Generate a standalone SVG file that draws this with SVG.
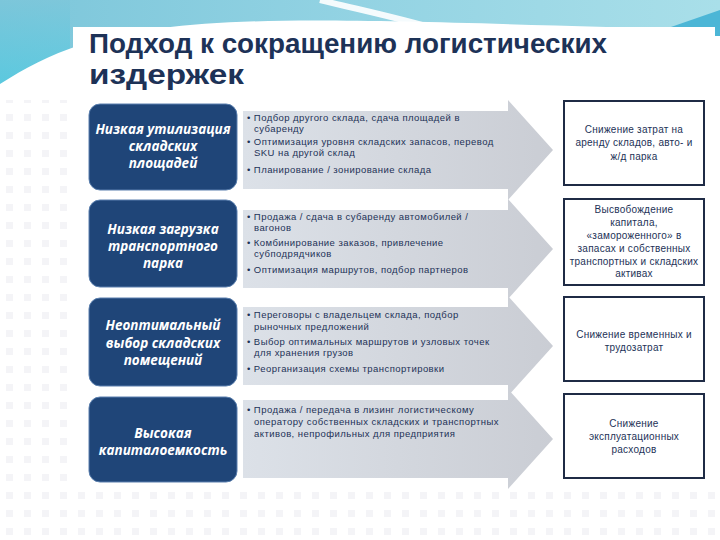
<svg xmlns="http://www.w3.org/2000/svg" width="720" height="540" viewBox="0 0 720 540">
<defs>
<linearGradient id="sky" x1="0" y1="0" x2="1" y2="0">
<stop offset="0" stop-color="#7cc6da"/>
<stop offset="0.5" stop-color="#93d3e3"/>
<stop offset="1" stop-color="#a9dfe9"/>
</linearGradient>
<linearGradient id="skyL" x1="0" y1="0" x2="0" y2="1">
<stop offset="0" stop-color="#7cc6da"/>
<stop offset="1" stop-color="#3fcbe3"/>
</linearGradient>
<linearGradient id="arr" x1="0" y1="0" x2="1" y2="0">
<stop offset="0" stop-color="#dce1e8"/>
<stop offset="1" stop-color="#cacdd4"/>
</linearGradient>
<pattern id="dots" x="0" y="0" width="18" height="18" patternUnits="userSpaceOnUse">
<rect x="6" y="6" width="7" height="7" fill="#f4f4f7"/>
</pattern>
<path id="arrowShape" d="M0,11 H265 V0 L310,50 L265,100 V89 H0 Z"/>
</defs>
<style>
.title{font-family:"Liberation Sans",Arial,sans-serif;font-weight:bold;font-size:27px;fill:#1d3257}
.lbox{fill:#1f4578;stroke:#5a7fae;stroke-width:1}
.ltxt{font-family:"Open Sans","DejaVu Sans",sans-serif;font-weight:bold;font-style:italic;font-size:13.5px;fill:#ffffff;text-anchor:middle}
.atxt{font-family:"Liberation Sans",Arial,sans-serif;font-size:9.5px;letter-spacing:0.45px;fill:#1d3257}
.rbox{fill:#ffffff;stroke:#1f2b45;stroke-width:2}
.rtxt{font-family:"Liberation Sans",Arial,sans-serif;font-size:10px;letter-spacing:0.25px;fill:#1d3257;text-anchor:middle}
.arrow{fill:url(#arr)}
</style>
<rect width="720" height="540" fill="#ffffff"/>
<rect x="0" y="0" width="720" height="95" fill="url(#sky)"/>
<path d="M0,0 H70 V95 H0 Z" fill="url(#skyL)" opacity="0.6"/>
<path d="M0,84 C25,68 50,55 80,45 C200,10 330,20 720,30 V95 H0 Z" fill="#ffffff"/>
<rect x="0" y="100" width="720" height="440" fill="url(#dots)"/>
<path d="M320,0 C360,10 410,20 460,36" fill="none" stroke="#ffffff" stroke-width="6" opacity="0.9"/>
<path d="M645,36 L720,10 V36 Z" fill="#4cb6d6"/>
<rect x="73" y="27" width="642" height="463" fill="#ffffff"/>

<g id="title">
<text class="title" x="89" y="53" textLength="518" lengthAdjust="spacingAndGlyphs">Подход к сокращению логистических</text>
<text class="title" x="89" y="84" textLength="155" lengthAdjust="spacingAndGlyphs">издержек</text>
</g>

<g id="connectors">
<use href="#arrowShape" class="arrow" transform="translate(243,100)"/>
<use href="#arrowShape" class="arrow" transform="translate(243,199)"/>
<use href="#arrowShape" class="arrow" transform="translate(243,296)"/>
<use href="#arrowShape" class="arrow" transform="translate(243,389)"/>
</g>

<g id="problem1">
<rect class="lbox" x="89" y="104" width="148" height="86" rx="11"/>
<text class="ltxt" x="163" y="134">Низкая утилизация</text>
<text class="ltxt" x="163" y="151">складских</text>
<text class="ltxt" x="163" y="168">площадей</text>
</g>
<g id="problem2">
<rect class="lbox" x="89" y="200" width="148" height="87" rx="11"/>
<text class="ltxt" x="163" y="234">Низкая загрузка</text>
<text class="ltxt" x="163" y="251">транспортного</text>
<text class="ltxt" x="163" y="268">парка</text>
</g>
<g id="problem3">
<rect class="lbox" x="89" y="298" width="148" height="88" rx="11"/>
<text class="ltxt" x="163" y="330">Неоптимальный</text>
<text class="ltxt" x="163" y="348">выбор складских</text>
<text class="ltxt" x="163" y="365">помещений</text>
</g>
<g id="problem4">
<rect class="lbox" x="89" y="397" width="148" height="85" rx="11"/>
<text class="ltxt" x="163" y="438">Высокая</text>
<text class="ltxt" x="163" y="455">капиталоемкость</text>
</g>

<g id="actions1">
<text class="atxt" x="247" y="121">• Подбор другого склада, сдача площадей в</text>
<text class="atxt" x="254" y="132">субаренду</text>
<text class="atxt" x="247" y="145">• Оптимизация уровня складских запасов, перевод</text>
<text class="atxt" x="254" y="156">SKU на другой склад</text>
<text class="atxt" x="247" y="173">• Планирование / зонирование склада</text>
</g>
<g id="actions2">
<text class="atxt" x="247" y="220">• Продажа / сдача в субаренду автомобилей  /</text>
<text class="atxt" x="254" y="231" font-size="8.5">вагонов</text>
<text class="atxt" x="247" y="246" font-size="8.5">• Комбинирование заказов, привлечение</text>
<text class="atxt" x="254" y="257">субподрядчиков</text>
<text class="atxt" x="247" y="273">• Оптимизация маршрутов, подбор партнеров</text>
</g>
<g id="actions3">
<text class="atxt" x="247" y="318">• Переговоры с владельцем склада, подбор</text>
<text class="atxt" x="254" y="330">рыночных предложений</text>
<text class="atxt" x="247" y="345">• Выбор оптимальных маршрутов и узловых точек</text>
<text class="atxt" x="254" y="356">для хранения грузов</text>
<text class="atxt" x="247" y="372">• Реорганизация схемы транспортировки</text>
</g>
<g id="actions4">
<text class="atxt" x="247" y="413">• Продажа / передача в лизинг логистическому</text>
<text class="atxt" x="254" y="425">оператору собственных складских и транспортных</text>
<text class="atxt" x="254" y="437">активов, непрофильных для предприятия</text>
</g>

<g id="result1">
<rect class="rbox" x="564" y="101" width="140" height="84"/>
<text class="rtxt" x="634" y="133">Снижение затрат на</text>
<text class="rtxt" x="634" y="146">аренду складов, авто- и</text>
<text class="rtxt" x="634" y="160">ж/д парка</text>
</g>
<g id="result2">
<rect class="rbox" x="564" y="199" width="140" height="86"/>
<text class="rtxt" x="634" y="213">Высвобождение</text>
<text class="rtxt" x="634" y="226">капитала,</text>
<text class="rtxt" x="634" y="239">«замороженного» в</text>
<text class="rtxt" x="634" y="252">запасах и собственных</text>
<text class="rtxt" x="634" y="265">транспортных и складских</text>
<text class="rtxt" x="634" y="277">активах</text>
</g>
<g id="result3">
<rect class="rbox" x="564" y="297" width="140" height="84"/>
<text class="rtxt" x="634" y="338">Снижение временных и</text>
<text class="rtxt" x="634" y="351">трудозатрат</text>
</g>
<g id="result4">
<rect class="rbox" x="564" y="394" width="140" height="84"/>
<text class="rtxt" x="634" y="427">Снижение</text>
<text class="rtxt" x="634" y="440">эксплуатационных</text>
<text class="rtxt" x="634" y="453">расходов</text>
</g>
</svg>
